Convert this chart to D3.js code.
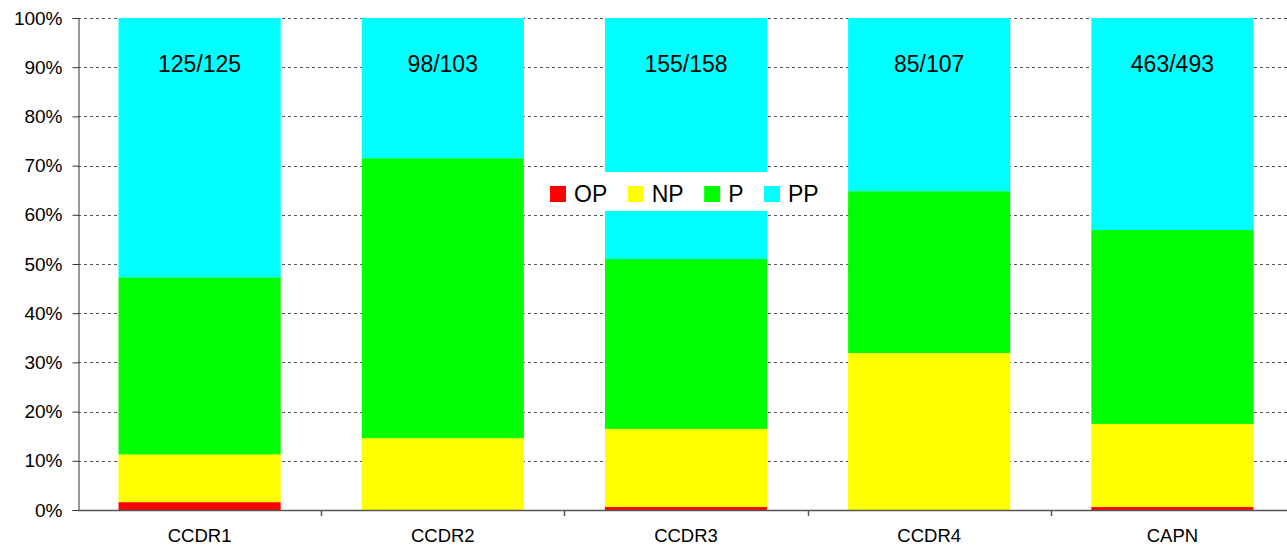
<!DOCTYPE html>
<html>
<head>
<meta charset="utf-8">
<script src="https://cdn.jsdelivr.net/npm/d3@7"></script>
<style>
  html, body { margin: 0; padding: 0; background: #fff; }
  svg { display: block; font-family: "Liberation Sans", Arial, sans-serif; }
</style>
</head>
<body>
<svg id="chart" width="1287" height="547"></svg>
<script>
// ---- data (percent of each bar) ----
const categories = ["CCDR1", "CCDR2", "CCDR3", "CCDR4", "CAPN"];
const seriesNames = ["OP", "NP", "P", "PP"];
const seriesColors = ["#FF0000", "#FFFF00", "#00FF00", "#00FFFF"];
const OP = [1.6, 0.0, 0.6, 0.0, 0.6];
const NP = [9.7, 14.6, 15.9, 31.9, 16.9];
const P  = [36.0, 56.9, 34.5, 32.9, 39.4];
const PP = [52.7, 28.5, 49.0, 35.2, 43.1];
const barLabels = ["125/125", "98/103", "155/158", "85/107", "463/493"];
const yTicks = [0, 10, 20, 30, 40, 50, 60, 70, 80, 90, 100];

(function () {
// ---- layout ----
const svg = d3.select("#chart");
const plotLeft = 78, plotTop = 18, plotBottom = 510;
const step = 243.2;
const plotRight = plotLeft + step * categories.length;

const x = d3.scaleBand().domain(categories).range([plotLeft, plotRight])
  .paddingInner(1 / 3).paddingOuter(1 / 6);
const y = d3.scaleLinear().domain([0, 100]).range([plotBottom, plotTop]);

const rows = categories.map((c, i) => ({ cat: c, OP: OP[i], NP: NP[i], P: P[i], PP: PP[i] }));
const stack = d3.stack().keys(seriesNames).offset(d3.stackOffsetExpand);
const stacked = stack(rows);
const yPct = d3.scaleLinear().domain([0, 1]).range([plotBottom, plotTop]);

// gridlines
svg.append("g").selectAll("line").data(yTicks.filter(t => t > 0)).join("line")
  .attr("x1", plotLeft).attr("x2", 1287)
  .attr("y1", d => Math.round(y(d)) + 0.5).attr("y2", d => Math.round(y(d)) + 0.5)
  .attr("stroke", "#555").attr("stroke-width", 1).attr("stroke-dasharray", "3,3");

// bars
svg.append("g").selectAll("g").data(stacked).join("g")
  .attr("fill", (d, i) => seriesColors[i])
  .selectAll("rect").data(d => d).join("rect")
  .attr("x", d => x(d.data.cat))
  .attr("width", x.bandwidth())
  .attr("y", d => yPct(d[1]))
  .attr("height", d => yPct(d[0]) - yPct(d[1]));

// bar labels
svg.append("g").selectAll("text").data(categories).join("text")
  .attr("x", d => x(d) + x.bandwidth() / 2)
  .attr("y", y(89))
  .attr("text-anchor", "middle")
  .attr("font-size", "23px").attr("fill", "#000")
  .text((d, i) => barLabels[i]);

// y axis
const yAxis = d3.axisLeft(y).tickValues(yTicks).tickFormat(d => d + "%")
  .tickSize(6).tickPadding(10);
const gy = svg.append("g").attr("transform", `translate(${plotLeft + 0.5},0)`).call(yAxis);
gy.select(".domain").attr("stroke", "#333");
gy.selectAll(".tick line").attr("stroke", "#333");
gy.selectAll(".tick text").attr("font-size", "19px").attr("fill", "#000")
  .attr("font-family", "Liberation Sans, Arial, sans-serif");

// x axis line with boundary ticks
const boundaries = d3.range(categories.length + 1).map(i => plotLeft + i * step);
svg.append("line").attr("x1", plotLeft).attr("x2", 1287)
  .attr("y1", plotBottom + 0.5).attr("y2", plotBottom + 0.5).attr("stroke", "#555").attr("stroke-width", 1.5);
svg.append("g").selectAll("line").data(boundaries.slice(1)).join("line")
  .attr("x1", d => Math.round(d) + 0.5).attr("x2", d => Math.round(d) + 0.5)
  .attr("y1", plotBottom).attr("y2", plotBottom + 6).attr("stroke", "#555").attr("stroke-width", 1.5);

// category labels
svg.append("g").selectAll("text").data(categories).join("text")
  .attr("x", d => x(d) + x.bandwidth() / 2)
  .attr("y", 542)
  .attr("text-anchor", "middle")
  .attr("font-size", "18.5px").attr("fill", "#000")
  .text(d => d);

// legend
const lg = svg.append("g");
lg.append("rect").attr("x", 537).attr("y", 172).attr("width", 289).attr("height", 39).attr("fill", "#fff");
let lx = 550;
seriesNames.forEach((name, i) => {
  lg.append("rect").attr("x", lx).attr("y", 186).attr("width", 16).attr("height", 16)
    .attr("fill", seriesColors[i]);
  const t = lg.append("text").attr("x", lx + 24).attr("y", 202)
    .attr("font-size", "23px").attr("fill", "#000").text(name);
  lx = lx + 24 + t.node().getComputedTextLength() + 20.5;
});
})();
</script>
</body>
</html>
